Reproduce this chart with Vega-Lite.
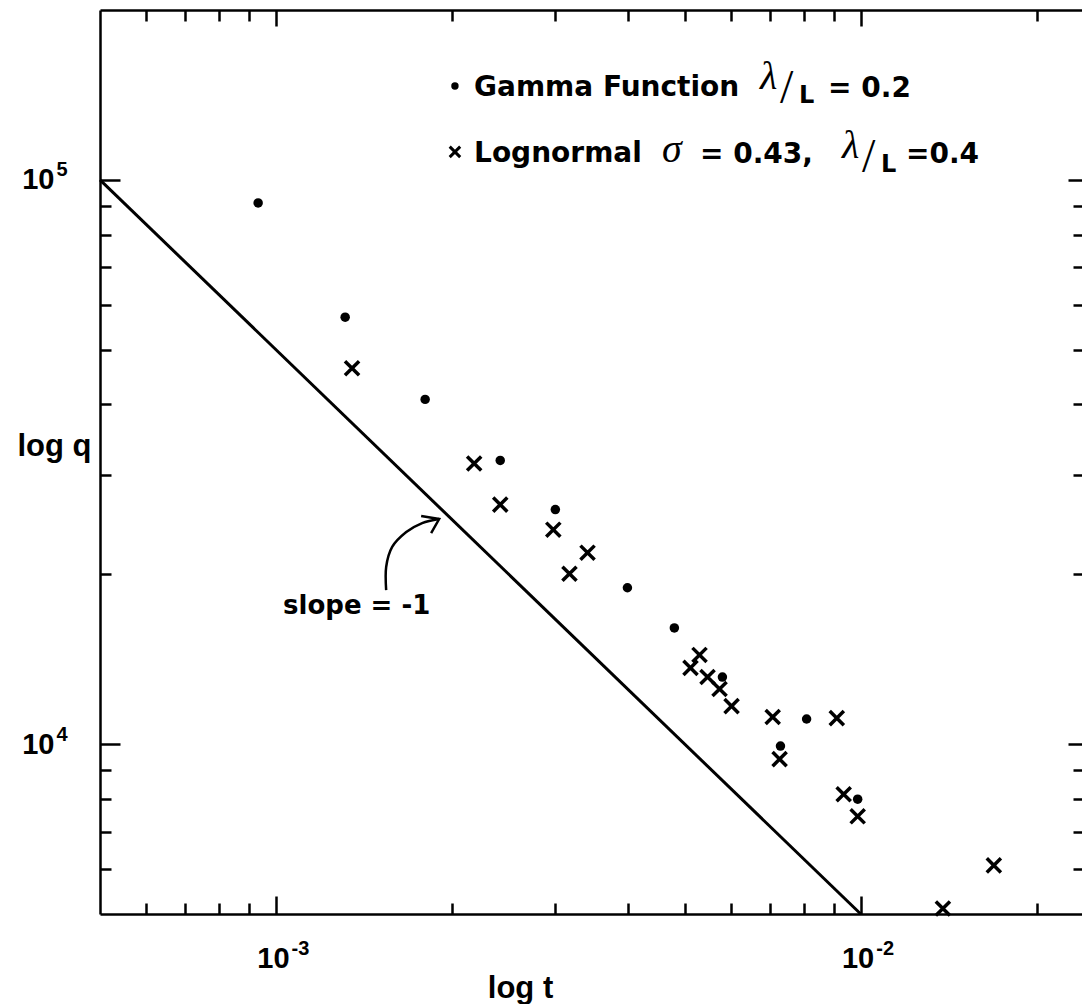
{
  "$schema": "https://vega.github.io/schema/vega-lite/v6.json",
  "width": 982,
  "height": 904,
  "autosize": "none",
  "padding": {"left": 100, "top": 10, "right": 0, "bottom": 90},
  "background": "white",
  "config": {
    "view": {"stroke": null},
    "axis": {
      "grid": false,
      "domainColor": "black",
      "tickColor": "black",
      "domainWidth": 2.5,
      "tickWidth": 2.5,
      "labelColor": "black",
      "titleColor": "black",
      "labelFont": "Liberation Sans",
      "labelFontWeight": "bold",
      "labelFontSize": 29,
      "titleFont": "Liberation Sans",
      "titleFontWeight": "bold",
      "titleFontSize": 31,
      "labelFlush": false,
      "labelOverlap": false
    }
  },
  "datasets": {
    "slope": [{"t": 0.0005, "q": 100000}, {"t": 0.01, "q": 5000}],
    "gamma": [
      {"t": 0.000932, "q": 91000}, {"t": 0.001313, "q": 57100}, {"t": 0.001799, "q": 40830},
      {"t": 0.002418, "q": 31820}, {"t": 0.003004, "q": 26040}, {"t": 0.00399, "q": 18930},
      {"t": 0.0048, "q": 16070}, {"t": 0.0058, "q": 13150}, {"t": 0.00808, "q": 11080},
      {"t": 0.00729, "q": 9920}, {"t": 0.00988, "q": 7987}
    ],
    "lognormal": [
      {"t": 0.001349, "q": 46360}, {"t": 0.002182, "q": 31430}, {"t": 0.002418, "q": 26580},
      {"t": 0.00298, "q": 23990}, {"t": 0.00341, "q": 21840}, {"t": 0.003176, "q": 20040},
      {"t": 0.0053, "q": 14390}, {"t": 0.005115, "q": 13650}, {"t": 0.00547, "q": 13150},
      {"t": 0.005735, "q": 12525}, {"t": 0.006013, "q": 11680}, {"t": 0.00707, "q": 11170},
      {"t": 0.0091, "q": 11120}, {"t": 0.007265, "q": 9406}, {"t": 0.00935, "q": 8150},
      {"t": 0.00988, "q": 7449}, {"t": 0.01689, "q": 6096}, {"t": 0.01382, "q": 5113}
    ],
    "curve": [
      {"i": 0, "t": 0.001543, "q": 18750}, {"i": 1, "t": 0.001543, "q": 20600},
      {"i": 2, "t": 0.00158, "q": 22360}, {"i": 3, "t": 0.00167, "q": 23760},
      {"i": 4, "t": 0.001778, "q": 24650}, {"i": 5, "t": 0.001901, "q": 25060}
    ],
    "arrowhead": [
      {"i": 0, "t": 0.001771, "q": 25370}, {"i": 1, "t": 0.001901, "q": 25060}, {"i": 2, "t": 0.001842, "q": 23660}
    ],
    "legend_dot": [{"t": 0.002023, "q": 146700}],
    "legend_x": [{"t": 0.002023, "q": 112100}],
    "sans": [
      {"t": 0.002181, "q": 140800, "label": "Gamma Function"},
      {"t": 0.008792, "q": 140300, "label": "= 0.2"},
      {"t": 0.002181, "q": 107600, "label": "Lognormal"},
      {"t": 0.005311, "q": 107100, "label": "= 0.43,"},
      {"t": 0.01195, "q": 107100, "label": "=0.4"}
    ],
    "slopelabel": [{"t": 0.001028, "q": 17010, "label": "slope = -1"}],
    "greek": [
      {"t": 0.006726, "q": 144900, "label": "λ"},
      {"t": 0.00929, "q": 109400, "label": "λ"},
      {"t": 0.004573, "q": 107600, "label": "σ"}
    ],
    "slash": [
      {"t": 0.007278, "q": 136900, "label": "/"},
      {"t": 0.01005, "q": 103300, "label": "/"}
    ],
    "ell": [
      {"t": 0.007842, "q": 136900, "label": "L"},
      {"t": 0.01083, "q": 103300, "label": "L"}
    ]
  },
  "resolve": {"axis": {"x": "independent", "y": "independent"}},
  "layer": [
    {
      "data": {"name": "slope"},
      "mark": {"type": "line", "color": "black", "strokeWidth": 3},
      "encoding": {
        "x": {"field": "t", "type": "quantitative",
              "scale": {"type": "log", "domain": [0.0005, 0.0239], "nice": false},
              "axis": {"orient": "bottom", "values": [0.001, 0.01], "tickSize": -18, "labelPadding": 48,
                       "labelExpr": "'10'", "labelAlign": "right", "labelOffset": 13,
                       "title": "log  t", "titleX": 420, "titleY": 83, "titleAlign": "center", "titleBaseline": "alphabetic"}},
        "y": {"field": "q", "type": "quantitative",
              "scale": {"type": "log", "domain": [5000, 200000], "nice": false},
              "axis": {"orient": "left", "values": [10000, 100000], "tickSize": -20, "labelPadding": 66,
                       "labelExpr": "'10'",
                       "title": "log q", "titleAngle": 0, "titleX": -83, "titleY": 445, "titleAlign": "left", "titleBaseline": "alphabetic"}}
      }
    },
    {
      "data": {"name": "gamma"},
      "mark": {"type": "point", "shape": "circle", "filled": true, "color": "black", "size": 90, "opacity": 1},
      "encoding": {
        "x": {"field": "t", "type": "quantitative",
              "scale": {"type": "log", "domain": [0.0005, 0.0239], "nice": false},
              "axis": {"orient": "bottom", "values": [0.0006, 0.0007, 0.0008, 0.0009, 0.002, 0.003, 0.004, 0.005, 0.006, 0.007, 0.008, 0.009, 0.02],
                       "tickSize": -11, "labels": false, "domain": false, "title": null}},
        "y": {"field": "q", "type": "quantitative",
              "scale": {"type": "log", "domain": [5000, 200000], "nice": false},
              "axis": {"orient": "left", "values": [6000, 7000, 8000, 9000, 20000, 30000, 40000, 50000, 60000, 70000, 80000, 90000],
                       "tickSize": -11, "labels": false, "domain": false, "title": null}}
      }
    },
    {
      "data": {"name": "lognormal"},
      "mark": {"type": "point", "shape": "M-1,-1L1,1M-1,1L1,-1", "filled": false, "color": "black", "strokeWidth": 3.5, "size": 200, "opacity": 1},
      "encoding": {
        "x": {"field": "t", "type": "quantitative",
              "scale": {"type": "log", "domain": [0.0005, 0.0239], "nice": false},
              "axis": {"orient": "top", "values": [0.001, 0.01], "tickSize": -16, "labels": false, "domain": true, "title": null}},
        "y": {"field": "q", "type": "quantitative",
              "scale": {"type": "log", "domain": [5000, 200000], "nice": false},
              "axis": {"orient": "right", "values": [10000, 100000], "tickSize": -14, "labels": false, "domain": false, "title": null}}
      }
    },
    {
      "data": {"name": "curve"},
      "mark": {"type": "line", "color": "black", "strokeWidth": 2.5, "interpolate": "cardinal"},
      "encoding": {
        "order": {"field": "i", "type": "quantitative"},
        "x": {"field": "t", "type": "quantitative",
              "scale": {"type": "log", "domain": [0.0005, 0.0239], "nice": false},
              "axis": {"orient": "top", "values": [0.0006, 0.0007, 0.0008, 0.0009, 0.002, 0.003, 0.004, 0.005, 0.006, 0.007, 0.008, 0.009, 0.02],
                       "tickSize": -11, "labels": false, "domain": false, "title": null}},
        "y": {"field": "q", "type": "quantitative",
              "scale": {"type": "log", "domain": [5000, 200000], "nice": false},
              "axis": {"orient": "right", "values": [6000, 7000, 8000, 9000, 20000, 30000, 40000, 50000, 60000, 70000, 80000, 90000],
                       "tickSize": -9, "labels": false, "domain": false, "title": null}}
      }
    },
    {
      "data": {"name": "arrowhead"},
      "mark": {"type": "line", "color": "black", "strokeWidth": 2.5, "strokeJoin": "miter"},
      "encoding": {
        "order": {"field": "i", "type": "quantitative"},
        "x": {"field": "t", "type": "quantitative", "scale": {"type": "log", "domain": [0.0005, 0.0239], "nice": false}, "axis": null},
        "y": {"field": "q", "type": "quantitative", "scale": {"type": "log", "domain": [5000, 200000], "nice": false}, "axis": null}
      }
    },
    {
      "data": {"name": "legend_dot"},
      "mark": {"type": "point", "shape": "circle", "filled": true, "color": "black", "size": 55, "opacity": 1},
      "encoding": {
        "x": {"field": "t", "type": "quantitative", "scale": {"type": "log", "domain": [0.0005, 0.0239], "nice": false}, "axis": null},
        "y": {"field": "q", "type": "quantitative", "scale": {"type": "log", "domain": [5000, 200000], "nice": false}, "axis": null}
      }
    },
    {
      "data": {"name": "legend_x"},
      "mark": {"type": "point", "shape": "M-1,-1L1,1M-1,1L1,-1", "filled": false, "color": "black", "strokeWidth": 3, "size": 110, "opacity": 1},
      "encoding": {
        "x": {"field": "t", "type": "quantitative", "scale": {"type": "log", "domain": [0.0005, 0.0239], "nice": false}, "axis": null},
        "y": {"field": "q", "type": "quantitative", "scale": {"type": "log", "domain": [5000, 200000], "nice": false}, "axis": null}
      }
    },
    {
      "data": {"name": "sans"},
      "mark": {"type": "text", "font": "DejaVu Sans", "fontWeight": "bold", "fontSize": 28, "align": "left", "baseline": "alphabetic", "color": "black"},
      "encoding": {
        "text": {"field": "label"},
        "x": {"field": "t", "type": "quantitative", "scale": {"type": "log", "domain": [0.0005, 0.0239], "nice": false}, "axis": null},
        "y": {"field": "q", "type": "quantitative", "scale": {"type": "log", "domain": [5000, 200000], "nice": false}, "axis": null}
      }
    },
    {
      "data": {"name": "slopelabel"},
      "mark": {"type": "text", "font": "DejaVu Sans", "fontWeight": "bold", "fontSize": 26, "align": "left", "baseline": "alphabetic", "color": "black"},
      "encoding": {
        "text": {"field": "label"},
        "x": {"field": "t", "type": "quantitative", "scale": {"type": "log", "domain": [0.0005, 0.0239], "nice": false}, "axis": null},
        "y": {"field": "q", "type": "quantitative", "scale": {"type": "log", "domain": [5000, 200000], "nice": false}, "axis": null}
      }
    },
    {
      "data": {"name": "greek"},
      "mark": {"type": "text", "font": "Liberation Serif", "fontStyle": "italic", "fontSize": 40, "align": "left", "baseline": "alphabetic", "color": "black"},
      "encoding": {
        "text": {"field": "label"},
        "x": {"field": "t", "type": "quantitative",
              "scale": {"type": "log", "domain": [0.0005, 0.0239], "nice": false},
              "axis": {"orient": "bottom", "values": [0.001, 0.01], "ticks": false, "tickSize": 0, "domain": false,
                       "labelExpr": "datum.value < 0.005 ? '-3' : '-2'", "labelFontSize": 20,
                       "labelAlign": "left", "labelOffset": 15, "labelPadding": 24, "title": null}},
        "y": {"field": "q", "type": "quantitative",
              "scale": {"type": "log", "domain": [5000, 200000], "nice": false},
              "axis": {"orient": "left", "values": [10000, 100000], "ticks": false, "tickSize": 0, "domain": false,
                       "labelExpr": "datum.value > 50000 ? '5' : '4'", "labelFontSize": 20,
                       "labelAlign": "left", "labelPadding": 44, "labelOffset": -10, "title": null}}
      }
    },
    {
      "data": {"name": "slash"},
      "mark": {"type": "text", "font": "Liberation Serif", "fontSize": 48, "align": "left", "baseline": "alphabetic", "color": "black"},
      "encoding": {
        "text": {"field": "label"},
        "x": {"field": "t", "type": "quantitative", "scale": {"type": "log", "domain": [0.0005, 0.0239], "nice": false}, "axis": null},
        "y": {"field": "q", "type": "quantitative", "scale": {"type": "log", "domain": [5000, 200000], "nice": false}, "axis": null}
      }
    },
    {
      "data": {"name": "ell"},
      "mark": {"type": "text", "font": "DejaVu Sans", "fontWeight": "bold", "fontSize": 24, "align": "left", "baseline": "alphabetic", "color": "black"},
      "encoding": {
        "text": {"field": "label"},
        "x": {"field": "t", "type": "quantitative", "scale": {"type": "log", "domain": [0.0005, 0.0239], "nice": false}, "axis": null},
        "y": {"field": "q", "type": "quantitative", "scale": {"type": "log", "domain": [5000, 200000], "nice": false}, "axis": null}
      }
    }
  ]
}
